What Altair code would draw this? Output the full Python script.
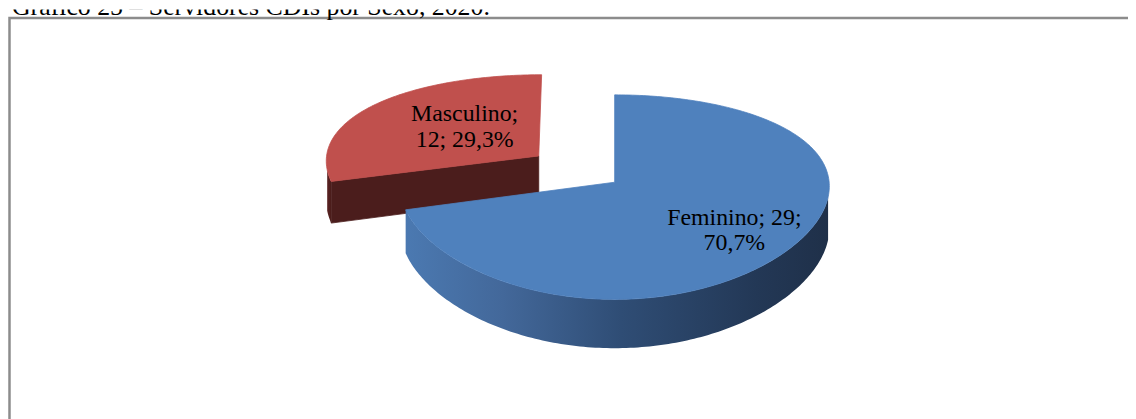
import math
import altair as alt
import pandas as pd

# ---------------- data ----------------
categories = ["Feminino", "Masculino"]
counts = [29, 12]
explode = [0.0, 0.45]        # slice pulled out (fraction of radius)
label_break = [2, 1]         # label parts kept on the first line
title_text = "Gráfico 25 – Servidores CDIs por Sexo, 2020."

# ---------------- layout / style ----------------
W, H = 1128, 411
U0, V0 = 611.0, 174.0        # projected centre of the pie (px)
RX, RZ = 216.0, 100.8        # projected radii
KX, KZ = 0.04, 0.1457        # perspective factors
THICK = 42.0                 # pie thickness (px)
LABEL_R = [0.69, 0.40]
LABEL_DX = [0.0, -8.0]
LABEL_DY = [3.6, -7.5]
FONT = "Liberation Serif"
FONT_SIZE = 24
LINE_H = 26
TOP_COLORS = ["#4f81bd", "#c0504d"]
CUT_COLORS = ["#1f3350", "#4b1d1c"]
SIDE_FILLS = [
    {"gradient": "linear", "x1": 0, "y1": 0, "x2": 1, "y2": 0,
     "stops": [{"offset": 0.0, "color": "#4b79b1"},
               {"offset": 0.23, "color": "#43689a"},
               {"offset": 0.51, "color": "#2f4d75"},
               {"offset": 0.83, "color": "#233856"},
               {"offset": 1.0, "color": "#1f3049"}]},
    {"gradient": "linear", "x1": 0, "y1": 0, "x2": 1, "y2": 0,
     "stops": [{"offset": 0.0, "color": "#5a2322"},
               {"offset": 1.0, "color": "#4b1d1c"}]},
]
SIL0 = math.degrees(math.acos(-KZ))
SIL1 = 360.0 - SIL0


def proj(X, Z, drop=False):
    wz = 1.0 + KZ * Z
    u = U0 + RX * X / (1.0 + KX * Z)
    v = V0 - RZ * Z / wz + (THICK / wz if drop else 0.0)
    return [round(u, 2), round(v, 2)]


def arc(a0, a1, ox, oz, drop=False, step=1.0):
    n = max(2, int(math.ceil((a1 - a0) / step)) + 1)
    pts = []
    for i in range(n):
        a = math.radians(a0 + (a1 - a0) * i / (n - 1))
        pts.append(proj(ox + math.sin(a), oz + math.cos(a), drop))
    return pts


total = sum(counts)
start = 0.0
slices = []
labels = []
for i, (cat, n) in enumerate(zip(categories, counts)):
    sweep = 360.0 * n / total
    a0, a1 = start, start + sweep
    start = a1
    mid = math.radians((a0 + a1) / 2)
    ox, oz = explode[i] * math.sin(mid), explode[i] * math.cos(mid)
    faces = []
    s0, s1 = max(a0, SIL0), min(a1, SIL1)
    if s1 > s0:
        t = arc(s0, s1, ox, oz)
        b = arc(s0, s1, ox, oz, True)
        faces.append(("side", t + b[::-1] + [t[0]], SIDE_FILLS[i]))
    for ang, nrm in ((a0, a0 - 90), (a1, a1 + 90)):
        if math.cos(math.radians(nrm)) < -0.05:
            r = math.radians(ang)
            ct, cb = proj(ox, oz), proj(ox, oz, True)
            et = proj(ox + math.sin(r), oz + math.cos(r))
            eb = proj(ox + math.sin(r), oz + math.cos(r), True)
            faces.append(("cut", [ct, et, eb, cb, ct], CUT_COLORS[i]))
    c = proj(ox, oz)
    faces.append(("top", [c] + arc(a0, a1, ox, oz) + [c], TOP_COLORS[i]))
    slices.append((oz, cat, faces))

    pct = f"{100.0 * n / total:.1f}%".replace(".", ",")
    segs = [f"{cat};", f"{n};", pct]
    k = label_break[i]
    text = " ".join(segs[:k]) + "\n" + " ".join(segs[k:])
    lx = ox + LABEL_R[i] * math.sin(mid)
    lz = oz + LABEL_R[i] * math.cos(mid)
    u, v = proj(lx, lz)
    labels.append({"x": u + LABEL_DX[i],
                   "y": v - LINE_H / 2 + 0.3 * FONT_SIZE + LABEL_DY[i],
                   "label": text})

slices.sort(key=lambda s: -s[0])

layers = []
# frame of the figure
layers.append(
    alt.Chart(pd.DataFrame({"k": [0]})).mark_rect(
        filled=False, color="#8c8c8c", strokeWidth=2.5
    ).encode(x=alt.value(1.5), x2=alt.value(W + 30),
             y=alt.value(8.5), y2=alt.value(H + 30))
)
# caption (its top is cut by the picture edge, as in the reference)
layers.append(
    alt.Chart(pd.DataFrame({"k": [0]})).mark_text(
        align="left", baseline="alphabetic", font=FONT, fontSize=26,
        color="black", clip=True
    ).encode(x=alt.value(4), y=alt.value(6), text=alt.value(title_text))
)

for oz, cat, faces in slices:
    for kind, ring, fill in faces:
        feat = {"type": "Feature",
                "properties": {"slice": cat, "face": kind},
                "geometry": {"type": "Polygon", "coordinates": [ring]}}
        if isinstance(fill, dict):
            mark = alt.Chart(alt.Data(values=[feat])).mark_geoshape(
                fill=fill, strokeWidth=0)
        else:
            mark = alt.Chart(alt.Data(values=[feat])).mark_geoshape(
                fill=fill, stroke=fill, strokeWidth=0.8)
        layers.append(
            mark.encode(tooltip=alt.Tooltip("properties.slice:N"))
            .project(type="identity", scale=1, translate=[0, 0])
        )

layers.append(
    alt.Chart(pd.DataFrame(labels)).mark_text(
        align="center", baseline="alphabetic", lineBreak="\n",
        lineHeight=LINE_H, font=FONT, fontSize=FONT_SIZE, color="black"
    ).encode(x=alt.X("x:Q", scale=None, axis=None),
             y=alt.Y("y:Q", scale=None, axis=None),
             text="label:N")
)

chart = alt.layer(*layers).properties(
    width=W, height=H, padding=0, autosize="none", background="white"
).configure_view(stroke=None)

chart.save("out.html", embed_options={"renderer": "svg", "actions": False})
